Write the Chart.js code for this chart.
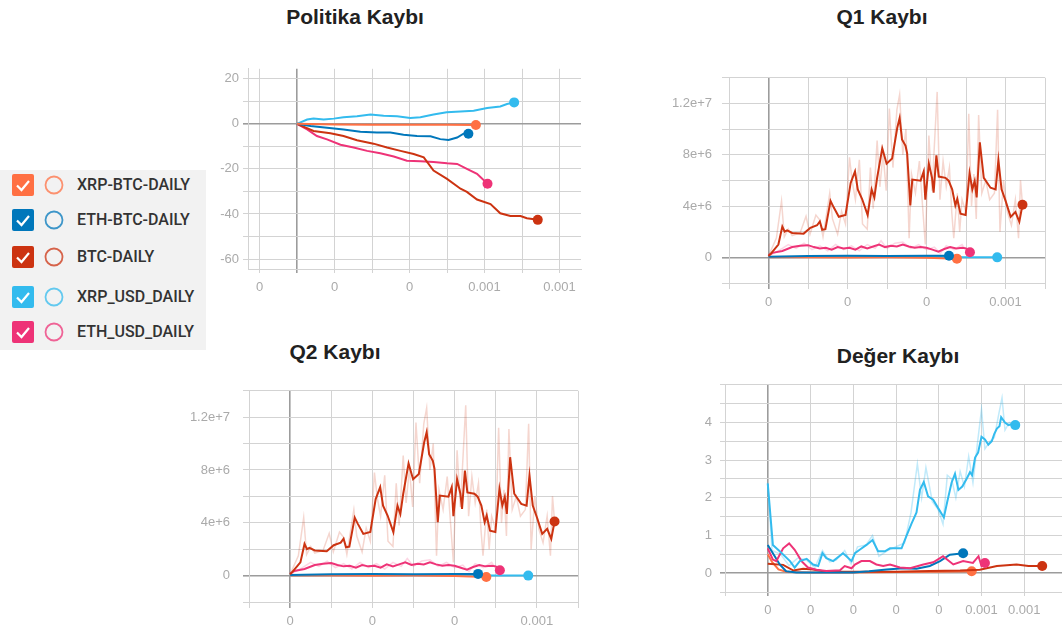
<!DOCTYPE html>
<html>
<head>
<meta charset="utf-8">
<style>
body{margin:0;width:1062px;height:634px;overflow:hidden;background:#fff;position:relative;font-family:"Liberation Sans",Arial,sans-serif}
.title{position:absolute;width:300px;text-align:center;font-weight:bold;font-size:21px;line-height:21px;color:#212121;white-space:nowrap}
#legend{position:absolute;left:0;top:170px;width:206px;height:180px;background:#f2f2f2}
.row{position:absolute;left:0;width:206px;height:22px}
.row svg{position:absolute;top:0}
.row span{position:absolute;left:77px;top:1px;font-family:Roboto,sans-serif;font-weight:500;font-size:16px;line-height:20px;color:#333}
canvas{position:absolute}
</style>
<script src="https://cdn.jsdelivr.net/npm/chart.js@4.4.1/dist/chart.umd.min.js"></script>
</head>
<body>
<div id="legend"></div>
<div class="title" style="left:205px;top:6px">Politika Kaybı</div>
<div class="title" style="left:732px;top:6px">Q1 Kaybı</div>
<div class="title" style="left:185px;top:341px">Q2 Kaybı</div>
<div class="title" style="left:748px;top:345px">Değer Kaybı</div>
<script>
'use strict';
let runNames = ['XRP-BTC-DAILY', 'ETH-BTC-DAILY', 'BTC-DAILY', 'XRP_USD_DAILY', 'ETH_USD_DAILY'];
let runColors = ['#ff7043', '#0077bb', '#cc3311', '#33bbee', '#ee3377'];
let rowCenters = [185, 220, 257, 297, 332];

// x values are in steps of 0.0001 (labels rounded to 3 decimals like the picture)
// Politika Kaybi
let polXrpBtcX = [0, 1, 2, 3, 4, 4.77];
let polXrpBtcY = [0, -0.3, -0.4, -0.4, -0.4, -0.5];
let polEthBtcX = [0, 0.36, 0.8, 1.24, 1.69, 2.13, 2.49, 2.84, 3.2, 3.56, 3.82, 4.04, 4.27, 4.44, 4.57];
let polEthBtcY = [0, -1.0, -1.8, -2.5, -3.5, -3.9, -3.9, -4.9, -5.4, -5.5, -6.8, -7.2, -6.1, -4.4, -4.4];
let polBtcX = [0, 0.44, 0.89, 1.24, 1.6, 2.04, 2.4, 2.76, 3.11, 3.38, 3.64, 4.0, 4.36, 4.53, 4.8, 5.16, 5.42, 5.69, 5.96, 6.13, 6.42];
let polBtcY = [0, -3.2, -4.2, -5.4, -7.3, -8.8, -10.5, -12, -13.4, -14.9, -20.7, -24.4, -28.8, -30.2, -33.6, -35.6, -39.7, -40.9, -40.9, -41.9, -42.6];
let polXrpUsdX = [0, 0.27, 0.44, 0.71, 0.98, 1.24, 1.6, 1.96, 2.31, 2.67, 3.02, 3.29, 3.64, 3.99, 4.36, 4.71, 5.07, 5.42, 5.6, 5.79];
let polXrpUsdY = [0, 1.9, 2.3, 1.9, 2.3, 2.9, 3.4, 4.1, 3.6, 3.4, 2.6, 2.9, 4.1, 5.1, 5.5, 5.8, 7.0, 7.7, 8.8, 9.5];
let polEthUsdX = [0, 0.27, 0.53, 0.8, 1.16, 1.51, 1.87, 2.22, 2.58, 2.93, 3.29, 3.64, 4.0, 4.27, 4.53, 4.8, 5.08];
let polEthUsdY = [0, -2.5, -5.4, -6.9, -9.3, -10.5, -12, -13.1, -14.5, -16.4, -16.6, -16.9, -17.5, -17.8, -20, -22.2, -26.6];

// Q1 / Q2 Kaybi (both panels show the same curves)
let qXrpBtcX = [0, 1, 2, 3, 4, 4.77];
let qXrpBtcY = [0, 0, -0.02e6, 0, -0.03e6, -0.1e6];
let qEthBtcX = [0, 1, 2, 3, 4, 4.57];
let qEthBtcY = [0.05e6, 0.1e6, 0.12e6, 0.1e6, 0.12e6, 0.13e6];
let qBtcX = [0, 0.05, 0.25, 0.35, 0.41, 0.47, 0.6, 0.89, 1.06, 1.23, 1.3, 1.36, 1.44, 1.57, 1.65, 1.78, 1.95, 2.08, 2.19, 2.26, 2.37, 2.51, 2.61, 2.68, 2.75, 2.88, 2.99, 3.13, 3.26, 3.32, 3.38, 3.47, 3.51, 3.59, 3.64, 3.85, 3.93, 3.97, 4.06, 4.14, 4.18, 4.25, 4.31, 4.48, 4.56, 4.65, 4.73, 4.78, 4.86, 4.99, 5.09, 5.16, 5.22, 5.27, 5.35, 5.45, 5.62, 5.75, 5.82, 5.9, 6.0, 6.13, 6.25, 6.35, 6.43];
let qBtcY = [0.1e6, 0.26e6, 1.0e6, 2.4e6, 2.0e6, 2.1e6, 1.9e6, 1.85e6, 2.3e6, 2.5e6, 2.8e6, 2.15e6, 2.2e6, 4.4e6, 3.9e6, 3.16e6, 3.3e6, 5.8e6, 6.7e6, 5.3e6, 4.55e6, 3.3e6, 5.3e6, 4.67e6, 6.2e6, 8.5e6, 7.3e6, 7.7e6, 10.1e6, 10.86e6, 9.2e6, 8.7e6, 8.1e6, 4.05e6, 6.06e6, 5.98e6, 6.7e6, 4.5e6, 7.3e6, 6.2e6, 5.05e6, 7.95e6, 6.3e6, 6.2e6, 5.98e6, 5.3e6, 4.05e6, 4.55e6, 3.4e6, 3.3e6, 6.57e6, 5.3e6, 5.95e6, 4.67e6, 8.97e6, 6.2e6, 5.43e6, 5.3e6, 7.58e6, 5.3e6, 4.42e6, 3.16e6, 3.54e6, 2.78e6, 4.1e6];
let qBtcRawX = [0, 0.2, 0.33, 0.4, 0.5, 0.6, 0.8, 0.95, 1.05, 1.2, 1.3, 1.38, 1.45, 1.55, 1.62, 1.75, 1.85, 1.95, 2.05, 2.12, 2.2, 2.3, 2.38, 2.5, 2.58, 2.65, 2.75, 2.82, 2.9, 2.98, 3.06, 3.15, 3.25, 3.32, 3.4, 3.48, 3.56, 3.62, 3.72, 3.82, 3.9, 3.97, 4.06, 4.14, 4.27, 4.34, 4.42, 4.5, 4.58, 4.64, 4.69, 4.78, 4.84, 4.9, 5.0, 5.07, 5.14, 5.2, 5.26, 5.32, 5.4, 5.5, 5.6, 5.72, 5.8, 5.86, 5.95, 6.05, 6.15, 6.25, 6.33, 6.38, 6.43];
let qBtcRawY = [0.1e6, 1.5e6, 4.4e6, 1.6e6, 2.2e6, 1.7e6, 1.9e6, 3.2e6, 1.8e6, 3.3e6, 2.9e6, 1.6e6, 3.0e6, 5.0e6, 3.0e6, 1.8e6, 3.6e6, 2.6e6, 7.8e6, 5.9e6, 4.5e6, 7.6e6, 2.6e6, 2.2e6, 7.0e6, 3.8e6, 9.1e6, 5.5e6, 8.1e6, 5.2e6, 11.6e6, 7.0e6, 11.5e6, 12.7e6, 8.0e6, 10.0e6, 1.5e6, 6.5e6, 5.0e6, 7.5e6, 4.0e6, 1.0e6, 9.5e6, 5.2e6, 12.9e6, 4.5e6, 7.5e6, 5.5e6, 7.0e6, 3.5e6, 1.5e6, 5.0e6, 2.0e6, 4.5e6, 3.5e6, 11.2e6, 4.0e6, 6.5e6, 3.0e6, 11.1e6, 5.0e6, 6.0e6, 4.5e6, 5.0e6, 11.5e6, 2.0e6, 6.0e6, 3.5e6, 2.5e6, 4.5e6, 1.5e6, 6.0e6, 4.1e6];
let qXrpUsdX = [0, 1, 2, 3, 4, 5, 5.79];
let qXrpUsdY = [0, 0.02e6, 0.02e6, 0.03e6, 0.02e6, 0.01e6, 0];
let qEthUsdX = [0, 0.1, 0.35, 0.6, 0.8, 1.0, 1.15, 1.3, 1.45, 1.6, 1.75, 1.9, 2.05, 2.2, 2.35, 2.5, 2.65, 2.8, 2.95, 3.1, 3.25, 3.4, 3.55, 3.7, 3.85, 4.0, 4.15, 4.3, 4.45, 4.6, 4.75, 4.9, 5.0, 5.1];
let qEthUsdY = [0.15e6, 0.35e6, 0.5e6, 0.8e6, 0.9e6, 0.95e6, 0.8e6, 0.7e6, 0.75e6, 0.6e6, 0.8e6, 0.7e6, 0.75e6, 0.6e6, 0.85e6, 0.7e6, 0.85e6, 1.0e6, 0.8e6, 0.9e6, 0.85e6, 1.0e6, 0.85e6, 0.75e6, 0.8e6, 0.75e6, 0.6e6, 0.45e6, 0.65e6, 0.8e6, 0.7e6, 0.75e6, 0.7e6, 0.4e6];
let qEthUsdRawX = [0, 0.3, 0.5, 0.7, 0.9, 1.1, 1.3, 1.5, 1.7, 1.9, 2.1, 2.3, 2.5, 2.7, 2.85, 3.0, 3.2, 3.4, 3.6, 3.8, 4.0, 4.2, 4.35, 4.5, 4.7, 4.9, 5.05, 5.1];
let qEthUsdRawY = [0.1e6, 0.6e6, 1.0e6, 0.7e6, 1.1e6, 0.6e6, 0.9e6, 0.5e6, 1.0e6, 0.6e6, 0.9e6, 0.5e6, 1.0e6, 0.7e6, 1.3e6, 0.7e6, 1.1e6, 1.2e6, 0.7e6, 1.0e6, 0.6e6, 0.8e6, 0.3e6, 0.9e6, 0.6e6, 1.0e6, 0.3e6, 0.4e6];

// Deger Kaybi
let degXrpBtcX = [0, 0.1, 0.25, 0.45, 1, 2, 3, 4, 4.77];
let degXrpBtcY = [0.5, 0.3, 0.1, 0.03, 0.02, 0.02, 0.03, 0.04, 0.05];
let degEthBtcX = [0, 0.12, 0.28, 0.43, 0.67, 1.2, 2.0, 2.37, 2.78, 3.17, 3.48, 3.79, 4.03, 4.26, 4.42, 4.57];
let degEthBtcY = [0.75, 0.53, 0.23, 0.05, 0.02, 0.02, 0.02, 0.05, 0.1, 0.13, 0.12, 0.19, 0.32, 0.49, 0.51, 0.53];
let degBtcX = [0, 0.36, 0.6, 0.83, 1.06, 1.37, 2, 3, 3.79, 4.5, 4.96, 5.36, 5.82, 6.1, 6.42];
let degBtcY = [0.25, 0.22, 0.07, 0.12, 0.1, 0.04, 0.04, 0.04, 0.06, 0.07, 0.09, 0.19, 0.23, 0.19, 0.19];
let degXrpUsdX = [0, 0.12, 0.28, 0.52, 0.63, 0.75, 0.91, 1.06, 1.18, 1.28, 1.37, 1.53, 1.76, 1.84, 1.96, 2.04, 2.15, 2.31, 2.45, 2.58, 2.74, 2.86, 3.13, 3.25, 3.36, 3.48, 3.56, 3.65, 3.75, 3.87, 4.0, 4.12, 4.2, 4.3, 4.38, 4.46, 4.55, 4.65, 4.73, 4.78, 4.85, 4.92, 5.0, 5.08, 5.16, 5.24, 5.3, 5.36, 5.42, 5.46, 5.55, 5.63, 5.7, 5.79];
let degXrpUsdY = [2.38, 0.75, 0.58, 0.32, 0.15, 0.32, 0.38, 0.23, 0.19, 0.53, 0.4, 0.32, 0.53, 0.45, 0.32, 0.53, 0.62, 0.75, 0.88, 0.58, 0.58, 0.66, 0.66, 1.0, 1.31, 1.61, 2.21, 2.42, 2.04, 1.95, 1.7, 1.48, 1.9, 2.4, 2.64, 2.21, 2.3, 2.5, 2.68, 2.6, 3.07, 3.2, 3.62, 3.55, 3.41, 3.5, 3.7, 3.84, 3.9, 4.14, 4.0, 3.93, 3.95, 3.93];
let degXrpUsdRawX = [0, 0.1, 0.3, 0.5, 0.7, 0.9, 1.1, 1.28, 1.45, 1.6, 1.8, 1.95, 2.1, 2.3, 2.45, 2.6, 2.8, 3.0, 3.2, 3.35, 3.5, 3.6, 3.7, 3.85, 3.98, 4.1, 4.2, 4.3, 4.4, 4.5, 4.6, 4.7, 4.8, 4.9, 5.0, 5.08, 5.2, 5.3, 5.4, 5.48, 5.55, 5.65, 5.79];
let degXrpUsdRawY = [2.4, 0.6, 0.5, 0.2, 0.4, 0.35, 0.15, 0.6, 0.3, 0.35, 0.6, 0.25, 0.7, 0.75, 1.0, 0.45, 0.6, 0.7, 0.8, 1.6, 2.9, 2.0, 2.8, 1.9, 1.7, 1.3, 2.6, 2.5, 2.0, 2.7, 2.3, 3.1, 2.4, 3.4, 4.35, 3.3, 3.5, 3.6, 4.2, 4.65, 3.8, 4.0, 3.9];
let degEthUsdX = [0, 0.12, 0.2, 0.36, 0.5, 0.63, 0.79, 0.94, 1.14, 1.37, 1.69, 1.8, 1.96, 2.04, 2.19, 2.39, 2.54, 2.7, 2.86, 3.09, 3.33, 3.64, 3.87, 4.03, 4.1, 4.34, 4.57, 4.8, 4.93, 5.0, 5.08];
let degEthUsdY = [0.66, 0.36, 0.32, 0.66, 0.79, 0.62, 0.32, 0.15, 0.09, 0.06, 0.08, 0.19, 0.13, 0.23, 0.32, 0.32, 0.23, 0.19, 0.23, 0.15, 0.13, 0.23, 0.29, 0.4, 0.45, 0.23, 0.32, 0.27, 0.45, 0.19, 0.27];

// axis grid values and their labels
let polXTicks = [-1, 0, 1, 2, 3, 4, 5, 6, 7];
let polXLabels = ['0', '', '0', '', '0', '', '0.001', '', '0.001'];
let polYTicks = [-60, -50, -40, -30, -20, -10, 0, 10, 20];
let polYLabels = ['-60', '', '-40', '', '-20', '', '0', '', '20'];
let qXTicks = [-1, 0, 1, 2, 3, 4, 5, 6, 7];
let qXLabels = ['', '0', '', '0', '', '0', '', '0.001', ''];
let qYTicks = [-2e6, 0, 2e6, 4e6, 6e6, 8e6, 10e6, 12e6, 14e6];
let qYLabels = ['', '0', '', '4e+6', '', '8e+6', '', '1.2e+7', ''];
let degXTicks = [-1, 0, 1, 2, 3, 4, 5, 6, 7];
let degXLabels = ['', '0', '0', '0', '0', '0', '0.001', '0.001', ''];
let degYTicks = [-0.5, 0, 0.5, 1, 1.5, 2, 2.5, 3, 3.5, 4, 4.5, 5];
let degYLabels = ['', '0', '', '1', '', '2', '', '3', '', '4', '', ''];

function pts(xs, ys){
    return xs.map(function(x, i){ return {x: x, y: ys[i]}; });
}

function fade(hex, a){
    let n = parseInt(hex.slice(1), 16);
    return 'rgba(' + (n >> 16) + ',' + ((n >> 8) & 255) + ',' + (n & 255) + ',' + a + ')';
}

function line(run, xs, ys, order){
    return {
        data: pts(xs, ys),
        borderColor: runColors[run],
        backgroundColor: runColors[run],
        borderWidth: 2,
        tension: 0,
        fill: false,
        order: order,
        pointBorderWidth: 0,
        pointRadius: function(ctx){ return ctx.dataIndex === ctx.dataset.data.length - 1 ? 5 : 0; }
    };
}

function raw(run, xs, ys, a){
    return {
        data: pts(xs, ys),
        borderColor: fade(runColors[run], a),
        borderWidth: 1.5,
        tension: 0,
        fill: false,
        order: 20,
        pointRadius: 0
    };
}

function gridColor(ctx){
    return ctx.tick && ctx.tick.value === 0 ? '#9c9c9c' : '#d3d3d3';
}

function makeChart(box, sets, ax){
    let padL = 60, padT = 10, padR = 10, padB = 40;
    let w = box.r - box.l + padL + padR;
    let h = box.b - box.t + padT + padB;
    let cv = document.createElement('canvas');
    cv.width = w;
    cv.height = h;
    cv.style.left = (box.l - padL) + 'px';
    cv.style.top = (box.t - padT) + 'px';
    cv.style.width = w + 'px';
    cv.style.height = h + 'px';
    document.body.appendChild(cv);
    let tickFont = {family: 'Liberation Sans', size: 13};
    new Chart(cv, {
        type: 'line',
        data: {datasets: sets},
        options: {
            responsive: false,
            animation: false,
            devicePixelRatio: 1,
            layout: {padding: {left: 0, top: padT, right: padR, bottom: 0}, autoPadding: false},
            plugins: {legend: {display: false}, tooltip: {enabled: false}},
            scales: {
                x: {
                    type: 'linear', min: ax.xMin, max: ax.xMax,
                    afterFit: function(s){ s.height = padB; },
                    afterBuildTicks: function(s){ s.ticks = ax.xTicks.map(function(v){ return {value: v}; }); },
                    ticks: {callback: function(v, i){ return ax.xLabels[i]; }, color: '#aaaaaa', font: tickFont, padding: ax.xPad, maxRotation: 0, autoSkip: false},
                    grid: {color: gridColor, lineWidth: function(ctx){ return ctx.tick && ctx.tick.value === 0 ? 1.6 : 1; }, tickLength: ax.xTick},
                    border: {display: true, color: '#d3d3d3'}
                },
                y: {
                    type: 'linear', min: ax.yMin, max: ax.yMax,
                    afterFit: function(s){ s.width = padL; },
                    afterBuildTicks: function(s){ s.ticks = ax.yTicks.map(function(v){ return {value: v}; }); },
                    ticks: {callback: function(v, i){ return ax.yLabels[i]; }, color: '#aaaaaa', font: tickFont, padding: ax.yPad, autoSkip: false},
                    grid: {color: gridColor, lineWidth: function(ctx){ return ctx.tick && ctx.tick.value === 0 ? 1.6 : 1; }, tickLength: ax.yTick},
                    border: {display: true, color: '#d3d3d3'}
                }
            }
        }
    });
}

function qSets(){
    return [
        raw(2, qBtcRawX, qBtcRawY, 0.2),
        raw(4, qEthUsdRawX, qEthUsdRawY, 0.2),
        line(3, qXrpUsdX, qXrpUsdY, 5),
        line(0, qXrpBtcX, qXrpBtcY, 4),
        line(1, qEthBtcX, qEthBtcY, 3),
        line(4, qEthUsdX, qEthUsdY, 2),
        line(2, qBtcX, qBtcY, 1)
    ];
}

makeChart({l: 248, t: 67, r: 581, b: 269}, [
    line(0, polXrpBtcX, polXrpBtcY, 1),
    line(1, polEthBtcX, polEthBtcY, 2),
    line(3, polXrpUsdX, polXrpUsdY, 3),
    line(4, polEthUsdX, polEthUsdY, 5),
    line(2, polBtcX, polBtcY, 4)
], {xMin: -1.307, xMax: 7.573, yMin: -64.4, yMax: 24.4, xTicks: polXTicks, xLabels: polXLabels, yTicks: polYTicks, yLabels: polYLabels, xTick: 4, xPad: 6.5, yTick: 5, yPad: 4});

makeChart({l: 729, t: 70, r: 1045, b: 283}, qSets(),
    {xMin: -1, xMax: 7, yMin: -2e6, yMax: 14e6, xTicks: qXTicks, xLabels: qXLabels, yTicks: qYTicks, yLabels: qYLabels, xTick: 6, xPad: 5.5, yTick: 7, yPad: 10});

makeChart({l: 249, t: 380, r: 578, b: 602}, qSets(),
    {xMin: -1, xMax: 7, yMin: -2e6, yMax: 14e6, xTicks: qXTicks, xLabels: qXLabels, yTicks: qYTicks, yLabels: qYLabels, xTick: 6, xPad: 6, yTick: 6, yPad: 13});

makeChart({l: 725, t: 379, r: 1067, b: 592}, [
    raw(3, degXrpUsdRawX, degXrpUsdRawY, 0.3),
    line(0, degXrpBtcX, degXrpBtcY, 5),
    line(2, degBtcX, degBtcY, 4),
    line(1, degEthBtcX, degEthBtcY, 3),
    line(4, degEthUsdX, degEthUsdY, 2),
    line(3, degXrpUsdX, degXrpUsdY, 1)
], {xMin: -1, xMax: 7, yMin: -0.5, yMax: 5, xTicks: degXTicks, xLabels: degXLabels, yTicks: degYTicks, yLabels: degYLabels, xTick: 4, xPad: 7, yTick: 5, yPad: 8});

// legend with the run names
let legend = document.getElementById('legend');
for (let i = 0; i < runNames.length; i++){
    let row = document.createElement('div');
    row.className = 'row';
    row.style.top = (rowCenters[i] - 170 - 11) + 'px';
    row.innerHTML =
        '<svg width="22" height="22" style="left:12px"><rect width="22" height="22" rx="2" fill="' + runColors[i] + '"/>' +
        '<path d="M5 11.5 L9.5 16 L17 7" stroke="#fff" stroke-width="2.2" fill="none"/></svg>' +
        '<svg width="22" height="22" style="left:43px"><circle cx="11" cy="11" r="8.5" fill="none" stroke="' + runColors[i] + '" stroke-width="1.8" opacity="0.75"/></svg>' +
        '<span>' + runNames[i] + '</span>';
    legend.appendChild(row);
}
</script>
</body>
</html>
